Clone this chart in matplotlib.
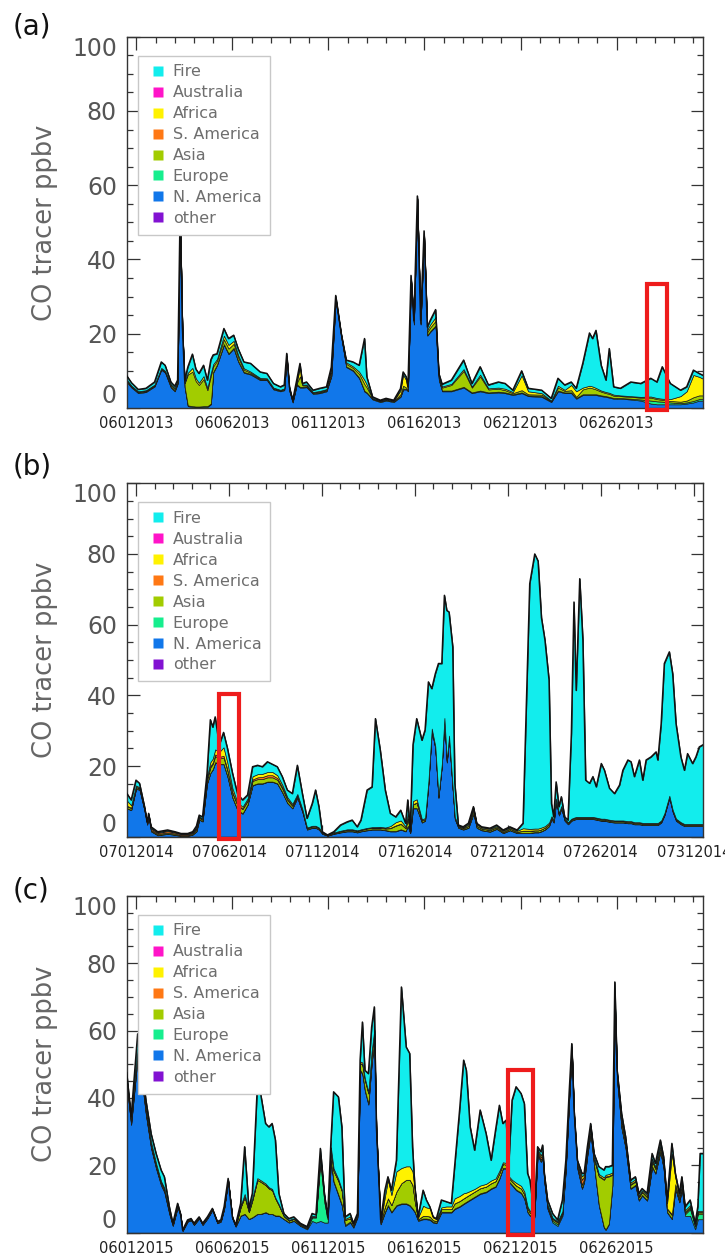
import numpy as np
import matplotlib
matplotlib.use('Agg')
import matplotlib.pyplot as plt
from matplotlib.lines import Line2D
from matplotlib.patches import Rectangle
from matplotlib.ticker import MultipleLocator

# legend order (top of stack first)
names = ['Fire', 'Australia', 'Africa', 'S. America', 'Asia', 'Europe', 'N. America', 'other']
colors = {'Fire': '#12EDED', 'Australia': '#FF14C8', 'Africa': '#FFF200',
          'S. America': '#FF7814', 'Asia': '#A2CC00', 'Europe': '#16EE8E',
          'N. America': '#1177EA', 'other': '#8212D2'}

yticks = [0, 20, 40, 60, 80, 100]
ylabels = ['0', '20', '40', '60', '80', '100']

# ---- (a) June 2013 ----
a_days = 30
a_xticks = [1, 6, 11, 16, 21, 26]
a_xlabels = ['06012013', '06062013', '06112013', '06162013', '06212013', '06262013']
a_t = [0.5, 0.75, 1.1, 1.5, 1.95, 2.3, 2.5, 2.8, 3.0, 3.15, 3.28, 3.4, 3.52, 3.68, 3.92, 4.1, 4.26, 4.5, 4.7, 4.88,
       5.0, 5.2, 5.56, 5.8, 6.07, 6.3, 6.6, 6.95, 7.45, 7.8, 8.14, 8.5, 8.7, 8.83, 8.97, 9.14, 9.35, 9.52, 9.65, 9.86,
       10.2, 10.55, 10.9, 11.15, 11.38, 11.67, 11.93, 12.28, 12.6, 12.88, 13.0, 13.3, 13.7, 14.0, 14.4, 14.75, 14.89, 15.05, 15.14, 15.3,
       15.45, 15.63, 15.8, 15.98, 16.15, 16.3, 16.58, 16.75, 16.92, 17.4, 18.04, 18.47, 18.9, 19.33, 19.85, 20.2, 20.6, 21.06, 21.4, 22.1,
       22.6, 22.95, 23.3, 23.64, 23.9, 24.24, 24.59, 24.75, 24.93, 25.2, 25.45, 25.62, 25.85, 26.2, 26.74, 27.26, 27.78, 28.1, 28.38, 28.8,
       29.33, 29.65, 30.0, 30.3, 30.5]
a_na = [7.0, 5.5, 4.0, 4.3, 5.8, 10.3, 9.5, 5.5, 4.5, 6.5, 52.0, 21.0, 5.5, 0.5, 0.3, 0.2, 0.2, 0.3, 0.3, 1.0,
        9.5, 11.5, 17.0, 14.5, 16.0, 12.5, 9.5, 9.0, 7.5, 7.5, 5.0, 4.5, 4.8, 13.5, 4.5, 1.5, 6.2, 5.5, 5.5, 5.6,
        3.8, 4.0, 4.5, 8.5, 29.0, 19.0, 11.0, 10.0, 8.0, 4.4, 4.0, 2.3, 1.6, 2.0, 1.6, 3.0, 5.0, 5.0, 4.5, 34.5,
        22.5, 56.0, 22.5, 46.5, 19.5, 20.5, 22.0, 7.5, 4.5, 4.5, 5.5, 4.0, 4.5, 4.0, 4.2, 4.0, 3.5, 4.0, 3.2, 3.0,
        1.6, 4.5, 4.0, 4.0, 2.5, 3.5, 3.5, 3.5, 3.5, 3.2, 3.0, 2.8, 2.5, 2.5, 2.3, 2.0, 1.2, 1.0, 1.0, 1.0,
        1.0, 1.2, 1.5, 2.0, 2.0]
a_eu = [0.2, 0.2, 0.2, 0.2, 0.2, 0.2, 0.2, 0.2, 0.2, 0.2, 0.2, 0.2, 0.2, 0.2, 0.2, 0.2, 0.2, 0.2, 0.2, 0.2,
        0.2, 0.2, 0.2, 0.2, 0.2, 0.2, 0.2, 0.2, 0.2, 0.2, 0.2, 0.2, 0.2, 0.2, 0.2, 0.2, 0.2, 0.2, 0.2, 0.2,
        0.2, 0.2, 0.2, 0.2, 0.2, 0.2, 0.2, 0.2, 0.2, 0.2, 0.2, 0.2, 0.2, 0.2, 0.2, 0.2, 0.2, 0.2, 0.2, 0.2,
        0.2, 0.2, 0.2, 0.2, 0.2, 0.2, 0.2, 0.2, 0.2, 0.2, 0.2, 0.2, 0.2, 0.2, 0.2, 0.2, 0.2, 0.2, 0.2, 0.2,
        0.2, 0.2, 0.2, 0.2, 0.2, 0.2, 0.2, 0.2, 0.2, 0.2, 0.2, 0.2, 0.2, 0.2, 0.2, 0.3, 0.8, 0.8, 0.7, 0.5,
        0.3, 0.3, 0.4, 0.4, 0.4]
a_asia = [0.3, 0.2, 0.2, 0.2, 0.2, 0.2, 0.2, 0.4, 0.4, 0.3, 0.2, 0.2, 1.0, 8.3, 9.3, 6.8, 5.8, 7.3, 4.3, 7.5,
          1.5, 1.0, 1.3, 1.3, 1.1, 1.0, 0.6, 0.3, 0.2, 0.1, 0.1, 0.1, 0.2, 0.2, 0.3, 0.1, 0.3, 2.8, 0.4, 0.3,
          0.2, 0.2, 0.2, 0.8, 0.3, 0.3, 0.7, 0.6, 1.0, 1.8, 1.3, 0.1, 0.1, 0.1, 0.1, 0.5, 0.8, 0.3, 0.1, 0.2,
          0.2, 0.2, 0.2, 0.3, 0.8, 1.0, 1.3, 0.5, 0.8, 1.5, 4.3, 1.3, 3.8, 0.8, 0.8, 0.6, 0.3, 0.6, 0.3, 0.4,
          0.1, 0.8, 0.4, 0.6, 0.3, 1.3, 1.8, 1.6, 1.3, 1.0, 0.8, 0.8, 0.6, 0.5, 0.5, 0.5, 0.8, 0.6, 0.5, 0.4,
          0.4, 0.5, 1.0, 1.0, 1.0]
a_afr = [0.2, 0.1, 0.1, 0.1, 0.1, 0.1, 0.1, 0.3, 0.3, 0.2, 0.1, 0.1, 0.3, 0.5, 1.0, 0.8, 0.6, 0.8, 0.6, 0.8,
         0.6, 0.5, 1.0, 1.0, 0.8, 0.6, 0.4, 0.3, 0.2, 0.2, 0.2, 0.1, 0.1, 0.1, 0.2, 0.1, 0.2, 2.5, 0.2, 0.2,
         0.1, 0.2, 0.2, 0.8, 0.2, 0.2, 0.4, 0.4, 0.6, 1.1, 0.8, 0.1, 0.1, 0.1, 0.1, 1.0, 3.0, 2.0, 0.2, 0.1,
         0.1, 0.1, 0.1, 0.2, 0.6, 0.8, 1.0, 0.4, 0.3, 0.3, 0.5, 0.3, 0.5, 0.3, 0.3, 0.4, 0.3, 4.0, 0.8, 0.4,
         0.1, 0.5, 0.3, 1.4, 1.5, 0.5, 0.5, 0.5, 0.4, 0.3, 0.3, 0.3, 0.3, 0.2, 0.2, 0.2, 0.3, 0.3, 0.3, 0.5,
         1.5, 2.5, 6.0, 5.0, 4.5]
a_fire = [1.0, 0.8, 0.5, 0.5, 0.7, 1.6, 1.5, 0.6, 0.5, 0.3, 0.3, 0.5, 0.5, 1.5, 3.7, 2.5, 2.5, 2.9, 2.1, 3.5,
          2.5, 1.4, 1.9, 1.7, 1.5, 1.7, 1.7, 2.2, 1.6, 1.3, 1.1, 0.8, 0.9, 0.7, 0.5, 0.2, 0.6, 1.0, 0.3, 0.7,
          0.5, 0.7, 0.6, 0.7, 0.6, 0.3, 0.6, 1.2, 1.7, 11.2, 2.1, 0.3, 0.1, 0.2, 0.1, 0.5, 0.7, 0.9, 0.7, 0.7,
          0.6, 0.6, 0.6, 0.5, 0.7, 1.1, 2.0, 0.7, 0.6, 1.0, 2.4, 0.8, 2.1, 0.9, 1.5, 1.4, 0.5, 1.2, 0.8, 0.8,
          0.6, 2.0, 1.3, 0.8, 0.8, 6.5, 14.2, 12.9, 15.5, 6.8, 3.2, 11.9, 2.1, 1.9, 3.8, 3.6, 4.9, 4.3, 8.6, 4.2,
          1.6, 1.2, 1.3, 0.9, 0.9]

# ---- (b) July 2014 ----
b_days = 31
b_xticks = [1, 6, 11, 16, 21, 26, 31]
b_xlabels = ['07012014', '07062014', '07112014', '07162014', '07212014', '07262014', '07312014']
b_t = [0.5, 0.74, 1.0, 1.19, 1.46, 1.6, 1.68, 1.81, 2.17, 2.7, 3.1, 3.42, 3.78, 4.05, 4.25, 4.4, 4.58, 4.82, 5.0, 5.13,
       5.26, 5.48, 5.71, 5.92, 6.19, 6.46, 6.73, 7.0, 7.27, 7.54, 7.8, 8.07, 8.34, 8.6, 8.87, 9.14, 9.41, 9.68, 9.95, 10.2,
       10.48, 10.66, 10.84, 11.02, 11.3, 11.64, 12.0, 12.36, 12.63, 12.9, 13.1, 13.43, 13.7, 13.88, 14.14, 14.41, 14.68, 14.97, 15.24, 15.5,
       15.62, 15.75, 15.9, 16.1, 16.38, 16.55, 16.73, 16.91, 17.1, 17.27, 17.45, 17.59, 17.72, 17.84, 18.04, 18.15, 18.34, 18.6, 18.88, 19.15,
       19.33, 19.59, 20.04, 20.4, 20.75, 21.11, 21.5, 21.82, 22.18, 22.45, 22.63, 22.81, 23.0, 23.22, 23.35, 23.47, 23.6, 23.75, 23.88, 24.06,
       24.24, 24.42, 24.56, 24.68, 24.87, 25.04, 25.19, 25.4, 25.58, 25.76, 26.03, 26.2, 26.47, 26.74, 27.01, 27.19, 27.46, 27.63, 27.81, 28.08,
       28.26, 28.44, 28.71, 28.98, 29.07, 29.25, 29.42, 29.69, 29.87, 30.05, 30.31, 30.5, 30.67, 30.94, 31.12, 31.3, 31.5]
b_na = [8.0, 7.5, 13.5, 13.3, 7.3, 3.4, 5.8, 1.5, 0.4, 0.8, 0.5, 0.2, 0.2, 0.6, 1.5, 4.8, 4.3, 15.0, 18.0, 19.0,
        21.0, 20.5, 20.5, 17.0, 11.0, 7.5, 6.5, 9.0, 14.5, 15.0, 15.0, 15.5, 15.5, 15.0, 12.5, 9.5, 8.0, 11.0, 7.0, 2.0,
        2.5, 2.5, 2.0, 0.8, 0.3, 0.8, 1.2, 1.5, 1.5, 1.2, 1.5, 1.8, 2.0, 2.0, 2.0, 1.8, 1.5, 1.5, 2.0, 1.5,
        3.0, 1.0, 8.0, 8.0, 4.0, 4.5, 15.0, 30.0, 25.0, 11.0, 20.0, 33.0, 21.0, 28.0, 13.0, 5.0, 2.5, 2.0, 2.5, 6.5,
        2.5, 1.8, 1.4, 2.2, 1.0, 1.8, 1.0, 1.0, 1.0, 1.2, 1.2, 1.5, 2.0, 3.0, 5.0, 4.0, 10.0, 6.0, 8.0, 4.5,
        3.5, 4.5, 4.8, 5.0, 5.0, 5.0, 5.0, 5.0, 5.0, 4.8, 4.5, 4.5, 4.2, 4.0, 4.0, 4.0, 3.8, 3.8, 3.5, 3.5,
        3.3, 3.3, 3.3, 3.3, 3.3, 4.0, 6.0, 11.0, 7.0, 4.5, 3.5, 3.0, 3.0, 3.0, 3.0, 3.0, 3.0]
b_eu = [0.1, 0.1, 0.1, 0.1, 0.1, 0.1, 0.1, 0.1, 0.1, 0.1, 0.1, 0.1, 0.1, 0.1, 0.1, 0.1, 0.1, 0.1, 0.1, 0.1,
        0.1, 0.1, 0.1, 0.1, 0.1, 0.1, 0.1, 0.1, 0.1, 0.1, 0.1, 0.1, 0.1, 0.1, 0.1, 0.1, 0.1, 0.1, 0.1, 0.1,
        0.1, 0.1, 0.1, 0.1, 0.0, 0.1, 0.1, 0.1, 0.1, 0.1, 0.1, 0.1, 0.1, 0.1, 0.1, 0.1, 0.1, 0.1, 0.1, 0.1,
        0.1, 0.1, 0.1, 0.1, 0.1, 0.1, 0.1, 0.1, 0.1, 0.1, 0.1, 0.1, 0.1, 0.1, 0.1, 0.1, 0.1, 0.1, 0.1, 0.1,
        0.1, 0.1, 0.1, 0.1, 0.1, 0.1, 0.1, 0.1, 0.1, 0.1, 0.1, 0.1, 0.1, 0.1, 0.1, 0.1, 0.1, 0.1, 0.1, 0.1,
        0.1, 0.1, 0.1, 0.1, 0.1, 0.1, 0.1, 0.1, 0.1, 0.1, 0.1, 0.1, 0.1, 0.1, 0.1, 0.1, 0.1, 0.1, 0.1, 0.1,
        0.1, 0.1, 0.1, 0.1, 0.1, 0.1, 0.1, 0.1, 0.1, 0.1, 0.1, 0.1, 0.1, 0.1, 0.1, 0.1, 0.1]
b_asia = [0.5, 0.5, 0.4, 0.3, 0.3, 0.3, 0.2, 0.3, 0.3, 0.3, 0.3, 0.2, 0.2, 0.3, 0.5, 0.4, 0.4, 1.0, 1.5, 1.5,
          1.7, 1.5, 1.8, 1.5, 1.2, 1.2, 1.2, 1.0, 1.2, 1.2, 1.2, 1.2, 1.2, 1.0, 1.0, 0.8, 0.6, 0.5, 0.4, 0.3,
          0.3, 0.3, 0.3, 0.2, 0.1, 0.2, 0.3, 0.3, 0.3, 0.3, 0.3, 0.4, 0.4, 0.4, 0.4, 0.4, 0.8, 1.5, 1.5, 0.8,
          2.0, 0.4, 1.0, 1.5, 0.5, 0.4, 0.4, 0.3, 0.3, 0.3, 0.3, 0.3, 0.3, 0.3, 0.3, 0.3, 0.3, 0.3, 0.5, 1.0,
          0.5, 0.4, 0.4, 0.4, 0.3, 0.4, 0.3, 0.5, 0.5, 0.5, 0.5, 0.5, 0.5, 0.5, 0.4, 0.4, 0.4, 0.3, 0.3, 0.3,
          0.3, 0.3, 0.3, 0.3, 0.3, 0.3, 0.3, 0.3, 0.3, 0.3, 0.3, 0.3, 0.3, 0.3, 0.3, 0.3, 0.3, 0.3, 0.3, 0.3,
          0.3, 0.3, 0.3, 0.3, 0.3, 0.3, 0.3, 0.3, 0.3, 0.3, 0.3, 0.3, 0.3, 0.3, 0.3, 0.3, 0.3]
b_sam = [0.2, 0.1, 0.1, 0.1, 0.1, 0.1, 0.1, 0.4, 0.3, 0.4, 0.3, 0.3, 0.3, 0.2, 0.3, 0.2, 0.2, 0.3, 0.4, 0.4,
         0.5, 0.5, 0.5, 0.4, 0.3, 0.2, 0.2, 0.2, 0.4, 0.5, 0.6, 0.6, 0.6, 0.5, 0.4, 0.3, 0.2, 0.2, 0.1, 0.1,
         0.1, 0.1, 0.1, 0.1, 0.0, 0.0, 0.0, 0.1, 0.1, 0.1, 0.1, 0.1, 0.1, 0.1, 0.1, 0.1, 0.1, 0.1, 0.1, 0.1,
         0.1, 0.0, 0.1, 0.1, 0.0, 0.0, 0.0, 0.0, 0.0, 0.0, 0.0, 0.0, 0.0, 0.0, 0.0, 0.0, 0.0, 0.0, 0.0, 0.0,
         0.0, 0.0, 0.0, 0.0, 0.0, 0.0, 0.0, 0.1, 0.1, 0.0, 0.0, 0.0, 0.0, 0.0, 0.0, 0.0, 0.0, 0.0, 0.0, 0.0,
         0.0, 0.0, 0.0, 0.0, 0.0, 0.0, 0.0, 0.0, 0.0, 0.0, 0.0, 0.0, 0.0, 0.0, 0.0, 0.0, 0.0, 0.0, 0.0, 0.0,
         0.0, 0.0, 0.0, 0.0, 0.0, 0.0, 0.0, 0.0, 0.0, 0.0, 0.0, 0.0, 0.0, 0.0, 0.0, 0.0, 0.0]
b_afr = [1.5, 0.7, 0.4, 0.2, 0.2, 0.1, 0.1, 0.2, 0.1, 0.1, 0.1, 0.0, 0.0, 0.1, 0.2, 0.2, 0.2, 0.7, 1.1, 1.1,
         1.4, 1.4, 2.4, 1.9, 1.1, 0.7, 0.5, 0.5, 0.9, 0.9, 0.9, 0.9, 0.9, 0.8, 0.7, 0.5, 0.4, 0.3, 0.2, 0.1,
         0.1, 0.1, 0.1, 0.0, 0.0, 0.1, 0.1, 0.1, 0.1, 0.1, 0.1, 0.1, 0.1, 0.1, 0.2, 0.2, 0.5, 0.9, 0.9, 0.4,
         1.4, 0.2, 0.9, 0.9, 0.3, 0.3, 0.3, 0.2, 0.2, 0.2, 0.2, 0.2, 0.2, 0.2, 0.2, 0.2, 0.2, 0.2, 0.4, 0.5,
         0.4, 0.3, 0.3, 0.3, 0.3, 0.3, 0.3, 0.7, 0.5, 0.5, 0.5, 0.5, 0.4, 0.4, 0.3, 0.3, 0.3, 0.3, 0.3, 0.2,
         0.2, 0.2, 0.2, 0.2, 0.2, 0.2, 0.2, 0.2, 0.2, 0.2, 0.2, 0.2, 0.2, 0.2, 0.2, 0.2, 0.2, 0.2, 0.2, 0.2,
         0.2, 0.2, 0.2, 0.2, 0.2, 0.2, 0.2, 0.2, 0.2, 0.2, 0.2, 0.2, 0.2, 0.2, 0.2, 0.2, 0.2]
b_fire = [2.0, 1.5, 1.5, 1.1, 0.5, 0.2, 0.3, 0.3, 0.2, 0.2, 0.1, 0.1, 0.1, 0.1, 0.4, 0.4, 0.4, 0.8, 12.0, 8.9,
          9.2, 2.0, 4.2, 4.1, 4.3, 2.5, 1.9, 1.0, 2.7, 2.5, 2.0, 2.9, 2.2, 2.4, 2.3, 2.0, 2.9, 8.1, 4.4, 2.6,
          6.3, 10.1, 5.9, 0.2, 0.1, 0.2, 1.6, 2.1, 2.6, 1.0, 2.6, 10.7, 11.4, 30.7, 21.7, 10.6, 3.6, 1.5, 2.9, 0.9,
          3.8, 0.2, 15.9, 22.8, 22.4, 24.9, 28.0, 11.3, 20.5, 37.4, 28.4, 34.7, 42.4, 35.0, 40.1, 9.5, 0.2, 0.2, 0.3, 0.4,
          0.3, 0.2, 0.2, 0.3, 0.2, 0.2, 0.2, 1.4, 69.4, 77.7, 75.7, 59.4, 52.6, 40.3, 3.6, 0.8, 4.7, 1.8, 2.6, 0.5,
          0.6, 24.1, 61.0, 35.8, 67.4, 50.0, 10.4, 9.5, 11.4, 8.7, 15.6, 13.7, 8.9, 7.6, 10.0, 14.2, 17.3, 16.8, 12.9, 17.6,
          12.1, 17.8, 18.7, 20.1, 17.8, 27.4, 42.4, 40.7, 38.5, 26.9, 18.5, 15.2, 19.9, 17.1, 19.0, 21.8, 22.4]

# ---- (c) June 2015 ----
c_days = 30
c_xticks = [1, 6, 11, 16, 21, 26]
c_xlabels = ['06012015', '06062015', '06112015', '06162015', '06212015', '06262015']
c_t = [0.5, 0.73, 1.07, 1.25, 1.5, 1.77, 2.03, 2.29, 2.46, 2.72, 2.9, 3.15, 3.3, 3.41, 3.67, 3.85, 4.0, 4.27, 4.45, 4.7,
       4.96, 5.22, 5.4, 5.57, 5.78, 6.0, 6.17, 6.43, 6.64, 6.86, 7.04, 7.3, 7.47, 7.73, 7.9, 8.07, 8.24, 8.42, 8.68, 8.94,
       9.2, 9.54, 9.89, 10.15, 10.35, 10.58, 10.79, 10.96, 11.13, 11.27, 11.52, 11.7, 11.87, 12.13, 12.3, 12.51, 12.65, 12.77, 12.9, 13.08,
       13.25, 13.39, 13.5, 13.72, 13.94, 14.1, 14.28, 14.54, 14.8, 15.05, 15.23, 15.38, 15.5, 15.67, 15.93, 16.1, 16.28, 16.45, 16.62, 16.88,
       17.14, 17.4, 17.57, 17.83, 18.04, 18.18, 18.38, 18.61, 18.9, 19.21, 19.47, 19.7, 19.9, 20.08, 20.25, 20.4, 20.56, 20.77, 21.03, 21.2,
       21.37, 21.49, 21.72, 21.89, 22.06, 22.15, 22.24, 22.41, 22.67, 22.93, 23.18, 23.36, 23.53, 23.67, 23.79, 23.96, 24.2, 24.31, 24.48, 24.65,
       24.83, 25.08, 25.34, 25.43, 25.6, 25.78, 25.91, 26.03, 26.26, 26.47, 26.73, 26.98, 27.16, 27.33, 27.59, 27.85, 28.02, 28.28, 28.45, 28.63,
       28.88, 29.06, 29.27, 29.4, 29.57, 29.83, 30.09, 30.23, 30.35, 30.5]
c_na = [44.0, 32.0, 52.0, 47.0, 35.0, 25.0, 19.0, 14.0, 12.0, 5.5, 2.0, 7.5, 5.0, 0.5, 3.3, 3.7, 2.3, 4.2, 2.3, 4.2,
        6.7, 2.8, 3.3, 7.0, 15.3, 4.2, 1.8, 5.0, 5.5, 4.0, 4.5, 5.5, 5.5, 6.0, 5.5, 5.5, 5.0, 5.0, 4.0, 3.0,
        3.5, 2.0, 1.0, 3.5, 3.0, 3.5, 3.0, 3.0, 21.0, 15.0, 11.0, 8.0, 2.0, 3.0, 1.5, 4.5, 48.0, 47.0, 42.0, 38.0,
        50.0, 57.0, 28.0, 2.5, 6.0, 8.0, 6.0, 8.0, 8.5, 8.5, 8.0, 7.0, 6.0, 3.5, 4.0, 4.0, 3.8, 3.0, 2.8, 6.0,
        6.0, 6.0, 7.0, 7.7, 8.5, 9.0, 9.7, 10.5, 11.5, 12.0, 13.0, 13.6, 16.0, 19.0, 19.0, 15.0, 14.0, 12.6, 11.7, 10.0,
        6.0, 5.0, 4.5, 23.0, 21.0, 22.0, 15.0, 7.0, 3.0, 2.0, 5.0, 19.0, 39.0, 54.0, 34.0, 19.0, 13.0, 15.0, 23.0, 29.5,
        20.0, 8.0, 1.5, 0.8, 2.5, 14.0, 66.0, 45.0, 31.0, 25.0, 13.0, 14.0, 9.5, 11.0, 9.5, 19.5, 17.5, 24.0, 19.0, 6.0,
        4.0, 13.0, 9.0, 13.0, 5.0, 5.0, 1.0, 4.0, 4.0, 4.0]
c_eu = [0.3, 0.3, 0.3, 0.3, 0.3, 0.3, 0.3, 0.3, 0.3, 0.3, 0.2, 0.2, 0.2, 0.1, 0.1, 0.1, 0.1, 0.1, 0.1, 0.1,
        0.1, 0.1, 0.1, 0.1, 0.1, 0.1, 0.1, 0.1, 0.1, 0.1, 0.1, 0.1, 0.1, 0.1, 0.1, 0.1, 0.1, 0.1, 0.1, 0.1,
        0.1, 0.1, 0.3, 1.0, 1.5, 17.5, 6.0, 1.0, 0.5, 0.3, 0.3, 0.3, 0.3, 0.3, 0.3, 0.3, 0.3, 0.3, 0.3, 0.3,
        0.3, 0.3, 0.3, 0.2, 0.2, 0.2, 0.2, 0.2, 0.2, 0.2, 0.2, 0.2, 0.2, 0.2, 0.2, 0.2, 0.2, 0.2, 0.2, 0.2,
        0.2, 0.2, 0.2, 0.2, 0.2, 0.2, 0.2, 0.2, 0.2, 0.2, 0.2, 0.2, 0.2, 0.2, 0.2, 0.2, 0.2, 0.2, 0.2, 0.2,
        0.2, 0.2, 0.2, 0.2, 0.2, 0.2, 0.2, 0.2, 0.5, 0.5, 0.5, 0.3, 0.3, 0.3, 0.3, 0.3, 0.2, 0.2, 0.2, 0.2,
        0.2, 0.2, 0.2, 0.2, 0.2, 0.2, 0.2, 0.2, 0.2, 0.2, 0.2, 0.2, 0.2, 0.2, 0.2, 0.2, 0.2, 0.2, 0.2, 0.2,
        0.2, 0.2, 0.2, 0.2, 0.5, 2.0, 0.8, 1.5, 1.5, 1.5]
c_asia = [1.0, 1.0, 1.2, 1.2, 1.2, 1.0, 0.8, 0.6, 0.6, 0.4, 0.2, 0.3, 0.1, 0.1, 0.1, 0.1, 0.1, 0.1, 0.1, 0.1,
          0.1, 0.1, 0.1, 0.2, 0.2, 0.1, 0.1, 2.4, 5.0, 2.0, 5.0, 10.0, 9.5, 8.0, 7.5, 7.0, 5.0, 3.0, 0.8, 0.5,
          0.5, 0.3, 0.2, 0.3, 0.3, 1.5, 1.5, 0.5, 3.0, 3.0, 4.0, 4.0, 1.5, 1.0, 0.5, 0.5, 2.0, 2.5, 3.0, 3.0,
          3.0, 2.5, 1.5, 0.5, 1.5, 2.0, 2.0, 4.0, 6.0, 7.0, 7.5, 7.0, 3.0, 0.3, 0.8, 0.8, 0.8, 0.5, 0.5, 0.8,
          0.8, 0.8, 1.5, 1.5, 1.5, 1.5, 1.5, 1.5, 1.5, 1.5, 1.5, 1.5, 1.5, 1.2, 1.0, 1.0, 1.0, 1.2, 1.2, 1.2,
          1.0, 0.8, 0.3, 0.5, 0.5, 0.6, 0.5, 0.5, 0.5, 0.5, 0.5, 0.5, 0.5, 0.5, 0.5, 0.6, 1.0, 0.8, 0.8, 1.0,
          1.5, 8.5, 14.0, 15.5, 14.0, 3.0, 3.0, 1.5, 1.5, 1.2, 1.0, 1.0, 0.8, 0.8, 0.8, 1.5, 1.2, 1.2, 1.2, 0.8,
          1.0, 1.0, 0.8, 1.0, 0.5, 0.5, 0.3, 0.5, 0.5, 0.5]
c_sam = [0.1, 0.1, 0.1, 0.1, 0.1, 0.1, 0.1, 0.1, 0.1, 0.0, 0.0, 0.0, 0.0, 0.0, 0.0, 0.0, 0.0, 0.0, 0.0, 0.0,
         0.0, 0.0, 0.0, 0.0, 0.0, 0.0, 0.0, 0.1, 0.1, 0.1, 0.1, 0.1, 0.1, 0.1, 0.1, 0.1, 0.1, 0.1, 0.0, 0.0,
         0.0, 0.0, 0.0, 0.0, 0.0, 0.0, 0.0, 0.0, 0.1, 0.1, 0.1, 0.1, 0.0, 0.0, 0.0, 0.0, 0.1, 0.1, 0.1, 0.1,
         0.1, 0.1, 0.1, 0.0, 0.0, 0.0, 0.0, 0.0, 0.0, 0.0, 0.0, 0.0, 0.0, 0.0, 0.0, 0.0, 0.0, 0.0, 0.0, 0.0,
         0.0, 0.0, 0.0, 0.0, 0.0, 0.0, 0.0, 0.0, 0.0, 0.0, 0.0, 0.0, 0.0, 0.0, 0.0, 0.0, 0.0, 0.0, 0.0, 0.0,
         0.0, 0.0, 0.0, 0.5, 0.7, 0.7, 0.5, 0.3, 0.2, 0.2, 0.2, 0.2, 0.2, 0.2, 0.2, 0.3, 1.5, 0.8, 0.3, 0.3,
         0.3, 0.2, 0.2, 0.2, 0.2, 0.2, 0.3, 0.2, 0.4, 0.3, 0.2, 0.2, 0.2, 0.2, 0.2, 0.3, 0.2, 0.2, 0.2, 0.2,
         0.3, 0.2, 0.2, 0.2, 0.2, 0.2, 0.1, 0.2, 0.2, 0.2]
c_afr = [0.5, 0.5, 1.0, 0.9, 0.7, 0.5, 0.4, 0.3, 0.3, 0.2, 0.1, 0.1, 0.1, 0.0, 0.1, 0.1, 0.1, 0.1, 0.1, 0.1,
         0.1, 0.1, 0.1, 0.1, 0.1, 0.1, 0.1, 0.4, 0.8, 0.4, 0.6, 0.5, 0.4, 0.4, 0.3, 0.3, 0.2, 0.2, 0.2, 0.2,
         0.2, 0.2, 0.1, 0.2, 0.1, 0.5, 0.3, 0.1, 0.7, 0.7, 0.5, 0.4, 0.3, 0.5, 0.2, 0.3, 0.4, 0.6, 0.4, 0.4,
         0.4, 0.4, 0.2, 0.2, 3.0, 5.5, 3.0, 6.0, 4.5, 4.0, 4.0, 4.0, 3.5, 0.5, 3.0, 2.5, 2.5, 0.8, 0.5, 0.5,
         0.8, 0.8, 1.5, 1.5, 1.5, 1.2, 1.0, 0.8, 0.8, 0.8, 0.8, 0.8, 0.7, 0.5, 0.5, 0.5, 0.5, 0.8, 0.8, 0.8,
         0.5, 0.5, 0.2, 0.5, 0.6, 0.7, 0.5, 0.3, 0.2, 0.2, 0.2, 0.2, 0.2, 0.2, 0.2, 0.4, 1.0, 0.6, 0.5, 0.7,
         0.6, 0.5, 0.5, 0.5, 0.5, 0.5, 0.5, 0.5, 0.8, 0.6, 0.5, 0.5, 0.4, 0.4, 0.5, 0.5, 0.5, 0.8, 0.8, 1.5,
         18.0, 2.0, 0.8, 0.8, 0.5, 0.5, 0.2, 0.3, 0.3, 0.3]
c_fire = [1.6, 0.5, 4.4, 1.5, 2.0, 2.5, 2.9, 3.3, 3.3, 1.3, 0.3, 0.6, 0.3, 0.1, 0.2, 0.2, 0.2, 0.2, 0.2, 0.2,
          0.2, 0.2, 0.2, 0.3, 0.4, 0.2, 0.2, 0.7, 14.0, 0.6, 1.4, 27.3, 25.7, 17.8, 17.9, 19.4, 17.1, 3.3, 0.6, 0.4,
          0.4, 0.2, 0.2, 0.7, 0.4, 2.0, 0.9, 0.1, 1.7, 22.7, 24.4, 18.6, 0.6, 0.9, 0.3, 0.1, 0.4, 12.0, 2.4, 5.4,
          7.2, 6.7, 1.3, 0.4, 1.9, 0.9, 1.4, 3.3, 53.7, 35.4, 33.5, 7.3, 0.9, 0.2, 4.6, 2.2, 0.4, 0.2, 0.2, 2.2,
          1.4, 0.9, 9.4, 25.5, 39.5, 36.3, 19.0, 11.5, 22.4, 14.9, 6.0, 14.3, 19.4, 11.5, 12.7, 4.8, 23.6, 28.5, 27.4, 26.1,
          9.9, 9.1, 0.5, 0.8, 1.0, 1.8, 0.9, 1.4, 1.3, 0.4, 3.3, 1.3, 1.1, 0.9, 1.2, 0.9, 0.9, 0.2, 0.7, 0.7,
          0.9, 2.2, 2.2, 2.4, 2.2, 2.1, 4.4, 0.8, 1.5, 1.2, 0.7, 0.7, 0.6, 0.5, 0.5, 1.5, 1.0, 1.1, 1.1, 1.0,
          3.0, 1.2, 0.7, 1.4, 1.0, 1.5, 0.4, 1.2, 17.0, 17.0]

# red boxes: (day start, day width, top value)
a_box = (27.6, 1.05, 33.5)
b_box = (5.46, 1.07, 40.4)
c_box = (20.34, 1.32, 48.4)

W, H = 725, 1256


def drawPanel(ax, t, layers, ndays, xticks, xlabels, box):
    # layers: list of (name, values), bottom of stack first
    vals = [np.array(v) for _, v in layers]
    cols = [colors[n] for n, _ in layers]
    ax.stackplot(t, *vals, colors=cols, edgecolor='#1a1a1a', linewidth=0.5, zorder=2)
    total = np.sum(vals, axis=0)
    ax.plot(t, total, color='#111111', lw=1.1, zorder=3)

    ax.set_xlim(0.5, ndays + 0.5)
    ax.set_ylim(0, 100)
    ax.set_xticks(xticks)
    ax.set_xticklabels(xlabels)
    ax.xaxis.set_minor_locator(MultipleLocator(1))
    ax.set_yticks(yticks)
    ax.set_yticklabels(ylabels)
    ax.yaxis.set_minor_locator(MultipleLocator(5))

    ax.tick_params(which='both', direction='in', top=True, right=True, color='#333333', width=0.9)
    ax.tick_params(which='major', length=9)
    ax.tick_params(which='minor', length=4.5)
    ax.tick_params(axis='x', labelsize=10.5, labelcolor='#222222', pad=6)
    ax.tick_params(axis='y', labelsize=17, labelcolor='#555555', pad=7)
    labs = ax.get_yticklabels()
    labs[0].set_va('bottom')
    labs[-1].set_va('top')
    for s in ax.spines.values():
        s.set_color('#333333')
        s.set_linewidth(1.0)

    x0, w, top = box
    ax.add_patch(Rectangle((x0, -0.6), w, top + 0.6, fill=False, edgecolor='#EE1C1C',
                           lw=3.0, clip_on=False, zorder=6))

    # legend, placed by pixel offset from the frame corner
    bb = ax.get_position()
    axw = bb.width * W
    axh = bb.height * H
    handles = [Line2D([], [], marker='s', linestyle='none', markersize=7.2,
                      markerfacecolor=colors[n], markeredgecolor='none', label=n) for n in names]
    leg = ax.legend(handles=handles, loc='upper left',
                    bbox_to_anchor=(11.0 / axw, 1 - 19.0 / axh),
                    borderaxespad=0, fontsize=11.5, labelcolor='#6e6e6e',
                    frameon=True, fancybox=False, edgecolor='#c8c8c8', framealpha=1,
                    handlelength=1.4, handletextpad=0.25, labelspacing=0.37,
                    borderpad=0.55)
    leg.get_frame().set_linewidth(1.0)
    leg.set_zorder(5)


fig = plt.figure(figsize=(W / 100, H / 100), dpi=100)

# frame corners in pixels: left, right, top, bottom
frames = [(126.7, 703.0, 36.7, 408.0), (126.7, 703.0, 483.3, 836.7), (126.7, 703.0, 895.7, 1232.7)]
axs = []
for l, r, tp, bt in frames:
    axs.append(fig.add_axes([l / W, (H - bt) / H, (r - l) / W, (bt - tp) / H]))

drawPanel(axs[0], a_t, [('N. America', a_na), ('Europe', a_eu), ('Asia', a_asia),
                        ('Africa', a_afr), ('Fire', a_fire)],
          a_days, a_xticks, a_xlabels, a_box)
drawPanel(axs[1], b_t, [('N. America', b_na), ('Europe', b_eu), ('Asia', b_asia),
                        ('S. America', b_sam), ('Africa', b_afr), ('Fire', b_fire)],
          b_days, b_xticks, b_xlabels, b_box)
drawPanel(axs[2], c_t, [('N. America', c_na), ('Europe', c_eu), ('Asia', c_asia),
                        ('S. America', c_sam), ('Africa', c_afr), ('Fire', c_fire)],
          c_days, c_xticks, c_xlabels, c_box)

# panel letters and y titles
for lab, ypix, (l, r, tp, bt) in zip(['(a)', '(b)', '(c)'], [27, 466, 890], frames):
    fig.text(13 / W, 1 - ypix / H, lab, fontsize=20, ha='left', va='center', color='#111111')
    fig.text(45 / W, 1 - (tp + bt) / 2 / H, 'CO tracer ppbv', rotation=90, fontsize=18.5,
             color='#666666', ha='center', va='center')

fig.savefig('out.png', dpi=100)
